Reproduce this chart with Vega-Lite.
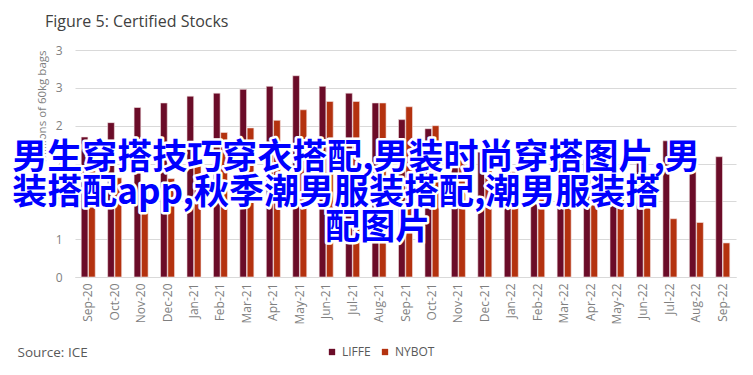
{
  "$schema": "https://vega.github.io/schema/vega-lite/v6.json",
  "width": 661,
  "height": 227,
  "autosize": {"type": "none"},
  "padding": {"left": 75, "top": 50, "right": 17, "bottom": 98},
  "background": "white",
  "config": {
    "view": {"stroke": null},
    "font": "Open Sans",
    "axisX": {"labelAngle": 270, "labelColor": "#7f7f7f", "labelFontSize": 12, "labelFont": "Open Sans", "ticks": false, "tickSize": 0, "labelPadding": 6, "domainColor": "#d9d9d9", "grid": false, "titleAnchor": "start", "titleAlign": "left", "titleX": -58, "titleY": 75, "titleBaseline": "middle", "titleFontSize": 13.5, "titleFontWeight": "normal", "titleColor": "#595959", "titleFont": "Open Sans"},
    "axisY": {"labelColor": "#7f7f7f", "labelFontSize": 12, "labelFont": "Open Sans", "labelOverlap": false, "ticks": false, "tickSize": 0, "labelPadding": 13, "domain": false, "grid": true, "gridColor": "#d9d9d9", "titleFontSize": 11.5, "titleFontWeight": "normal", "titleColor": "#7f7f7f", "titleFont": "Open Sans", "titleAnchor": "end", "titlePadding": 8}
  },
  "title": {"text": "Figure 5: Certified Stocks", "anchor": "start", "frame": "group", "dx": -30, "offset": 14, "fontSize": 16, "font": "Open Sans", "fontWeight": "normal", "color": "#404040"},
  "datasets": {
    "stocks": [
      {"month": "Sep-20", "series": "LIFFE", "value": 1.85}, {"month": "Sep-20", "series": "NYBOT", "value": 1.80},
      {"month": "Oct-20", "series": "LIFFE", "value": 2.04}, {"month": "Oct-20", "series": "NYBOT", "value": 1.31},
      {"month": "Nov-20", "series": "LIFFE", "value": 2.24}, {"month": "Nov-20", "series": "NYBOT", "value": 1.20},
      {"month": "Dec-20", "series": "LIFFE", "value": 2.30}, {"month": "Dec-20", "series": "NYBOT", "value": 1.30},
      {"month": "Jan-21", "series": "LIFFE", "value": 2.39}, {"month": "Jan-21", "series": "NYBOT", "value": 1.50},
      {"month": "Feb-21", "series": "LIFFE", "value": 2.43}, {"month": "Feb-21", "series": "NYBOT", "value": 1.91},
      {"month": "Mar-21", "series": "LIFFE", "value": 2.48}, {"month": "Mar-21", "series": "NYBOT", "value": 1.97},
      {"month": "Apr-21", "series": "LIFFE", "value": 2.52}, {"month": "Apr-21", "series": "NYBOT", "value": 2.07},
      {"month": "May-21", "series": "LIFFE", "value": 2.66}, {"month": "May-21", "series": "NYBOT", "value": 2.21},
      {"month": "Jun-21", "series": "LIFFE", "value": 2.52}, {"month": "Jun-21", "series": "NYBOT", "value": 2.32},
      {"month": "Jul-21", "series": "LIFFE", "value": 2.43}, {"month": "Jul-21", "series": "NYBOT", "value": 2.32},
      {"month": "Aug-21", "series": "LIFFE", "value": 2.30}, {"month": "Aug-21", "series": "NYBOT", "value": 2.30},
      {"month": "Sep-21", "series": "LIFFE", "value": 2.08}, {"month": "Sep-21", "series": "NYBOT", "value": 2.25},
      {"month": "Oct-21", "series": "LIFFE", "value": 1.96}, {"month": "Oct-21", "series": "NYBOT", "value": 2.00},
      {"month": "Nov-21", "series": "LIFFE", "value": 1.79}, {"month": "Nov-21", "series": "NYBOT", "value": 1.77},
      {"month": "Dec-21", "series": "LIFFE", "value": 1.65}, {"month": "Dec-21", "series": "NYBOT", "value": 1.62},
      {"month": "Jan-22", "series": "LIFFE", "value": 1.60}, {"month": "Jan-22", "series": "NYBOT", "value": 1.39},
      {"month": "Feb-22", "series": "LIFFE", "value": 1.62}, {"month": "Feb-22", "series": "NYBOT", "value": 1.35},
      {"month": "Mar-22", "series": "LIFFE", "value": 1.58}, {"month": "Mar-22", "series": "NYBOT", "value": 1.38},
      {"month": "Apr-22", "series": "LIFFE", "value": 1.55}, {"month": "Apr-22", "series": "NYBOT", "value": 1.19},
      {"month": "May-22", "series": "LIFFE", "value": 1.70}, {"month": "May-22", "series": "NYBOT", "value": 1.04},
      {"month": "Jun-22", "series": "LIFFE", "value": 1.76}, {"month": "Jun-22", "series": "NYBOT", "value": 1.04},
      {"month": "Jul-22", "series": "LIFFE", "value": 1.80}, {"month": "Jul-22", "series": "NYBOT", "value": 0.77},
      {"month": "Aug-22", "series": "LIFFE", "value": 1.70}, {"month": "Aug-22", "series": "NYBOT", "value": 0.72},
      {"month": "Sep-22", "series": "LIFFE", "value": 1.59}, {"month": "Sep-22", "series": "NYBOT", "value": 0.45}
    ],
    "wmA": [
      {"t": "男生穿搭技巧穿衣搭配,男装时尚穿搭图片,男", "month": "Sep-20", "value": 1.57},
      {"t": "装搭配app,秋季潮男服装搭配,潮男服装搭", "month": "Sep-20", "value": 1.11}
    ],
    "wmB": [
      {"t": "配图片", "month": "Jun-21", "value": 0.65}
    ]
  },
  "layer": [
    {
      "data": {"name": "stocks"},
      "mark": {"type": "bar", "stroke": "#f3e4e4", "strokeWidth": 0.6},
      "encoding": {
        "x": {
          "field": "month", "type": "nominal", "sort": null, "title": "Source: ICE",
          "scale": {"domain": ["Sep-20","Oct-20","Nov-20","Dec-20","Jan-21","Feb-21","Mar-21","Apr-21","May-21","Jun-21","Jul-21","Aug-21","Sep-21","Oct-21","Nov-21","Dec-21","Jan-22","Feb-22","Mar-22","Apr-22","May-22","Jun-22","Jul-22","Aug-22","Sep-22"], "paddingInner": 0.47, "paddingOuter": 0.235}
        },
        "xOffset": {"field": "series", "scale": {"domain": ["LIFFE", "NYBOT"], "paddingInner": 0.08}},
        "y": {
          "field": "value", "type": "quantitative", "title": "Millions of 60kg bags",
          "scale": {"domain": [0, 3], "nice": false},
          "axis": {"values": [0, 0.5, 1, 1.5, 2, 2.5, 3], "format": ".0f"}
        },
        "color": {
          "field": "series", "type": "nominal",
          "scale": {"domain": ["LIFFE", "NYBOT"], "range": ["#6b0c28", "#b4320f"]},
          "legend": {"orient": "none", "legendX": 251, "legendY": 296, "direction": "horizontal", "title": null, "symbolType": "square", "symbolSize": 40, "symbolStrokeWidth": 0, "labelFontSize": 12, "labelColor": "#595959", "labelFont": "Open Sans", "columnPadding": 8, "labelOffset": 4}
        }
      }
    },
    {
      "data": {"name": "wmA"},
      "mark": {"type": "text", "align": "left", "baseline": "middle", "dx": -76, "font": "Noto Sans CJK SC", "fontWeight": "bold", "fontSize": 35, "fill": "white", "stroke": "white", "strokeWidth": 5, "strokeJoin": "round"},
      "encoding": {
        "x": {"field": "month", "type": "nominal", "title": "Source: ICE"},
        "y": {"field": "value", "type": "quantitative", "title": "Millions of 60kg bags", "axis": {"values": [0, 0.5, 1, 1.5, 2, 2.5, 3], "format": ".0f"}},
        "text": {"field": "t"}
      }
    },
    {
      "data": {"name": "wmA"},
      "mark": {"type": "text", "align": "left", "baseline": "middle", "dx": -76, "font": "Noto Sans CJK SC", "fontWeight": "bold", "fontSize": 35, "fill": "#0000ff"},
      "encoding": {
        "x": {"field": "month", "type": "nominal", "title": "Source: ICE"},
        "y": {"field": "value", "type": "quantitative", "title": "Millions of 60kg bags", "axis": {"values": [0, 0.5, 1, 1.5, 2, 2.5, 3], "format": ".0f"}},
        "text": {"field": "t"}
      }
    },
    {
      "data": {"name": "wmB"},
      "mark": {"type": "text", "align": "left", "baseline": "middle", "dx": -1, "font": "Noto Sans CJK SC", "fontWeight": "bold", "fontSize": 35, "fill": "white", "stroke": "white", "strokeWidth": 5, "strokeJoin": "round"},
      "encoding": {
        "x": {"field": "month", "type": "nominal", "title": "Source: ICE"},
        "y": {"field": "value", "type": "quantitative", "title": "Millions of 60kg bags", "axis": {"values": [0, 0.5, 1, 1.5, 2, 2.5, 3], "format": ".0f"}},
        "text": {"field": "t"}
      }
    },
    {
      "data": {"name": "wmB"},
      "mark": {"type": "text", "align": "left", "baseline": "middle", "dx": -1, "font": "Noto Sans CJK SC", "fontWeight": "bold", "fontSize": 35, "fill": "#0000ff"},
      "encoding": {
        "x": {"field": "month", "type": "nominal", "title": "Source: ICE"},
        "y": {"field": "value", "type": "quantitative", "title": "Millions of 60kg bags", "axis": {"values": [0, 0.5, 1, 1.5, 2, 2.5, 3], "format": ".0f"}},
        "text": {"field": "t"}
      }
    }
  ]
}
